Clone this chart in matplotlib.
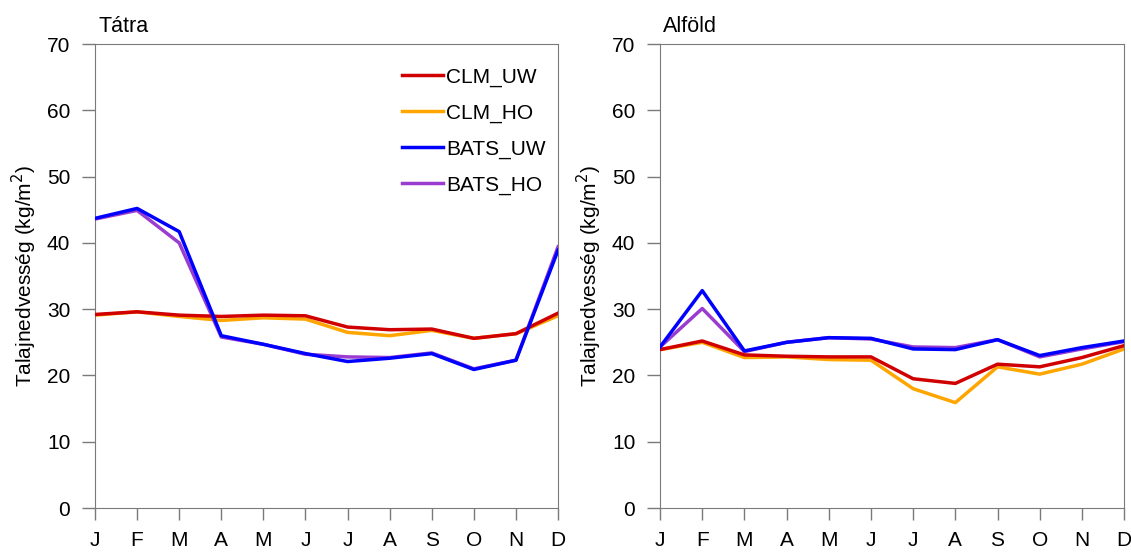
import matplotlib
matplotlib.use('Agg')
from matplotlib import pyplot as plt

plt.rcParams['font.family'] = ['Liberation Sans', 'DejaVu Sans']

MONTHS = ['J', 'F', 'M', 'A', 'M', 'J', 'J', 'A', 'S', 'O', 'N', 'D']

# Tátra
tatra_clm_uw = [29.2, 29.6, 29.1, 28.9, 29.1, 29.0, 27.3, 26.9, 27.0, 25.6, 26.3, 29.4]
tatra_clm_ho = [29.1, 29.6, 28.9, 28.3, 28.7, 28.5, 26.5, 26.0, 26.8, 25.6, 26.3, 29.0]
tatra_bats_uw = [43.7, 45.2, 41.7, 26.0, 24.7, 23.3, 22.1, 22.6, 23.3, 20.9, 22.3, 38.9]
tatra_bats_ho = [43.6, 44.9, 40.0, 25.8, 24.7, 23.2, 22.8, 22.7, 23.4, 21.0, 22.3, 39.4]

# Alföld
alfold_clm_uw = [23.9, 25.2, 23.1, 22.9, 22.8, 22.8, 19.5, 18.8, 21.7, 21.3, 22.7, 24.5]
alfold_clm_ho = [23.9, 25.0, 22.7, 22.8, 22.4, 22.3, 18.0, 15.9, 21.3, 20.2, 21.7, 24.0]
alfold_bats_uw = [24.3, 32.8, 23.7, 25.0, 25.7, 25.6, 24.0, 23.9, 25.4, 23.0, 24.2, 25.2]
alfold_bats_ho = [24.3, 30.1, 23.6, 25.0, 25.7, 25.5, 24.3, 24.2, 25.4, 22.8, 24.0, 25.1]

COLORS = {'CLM_UW': '#d00000', 'CLM_HO': '#ffa500', 'BATS_UW': '#0000ff', 'BATS_HO': '#9a3cd0'}
GRAY = '#7a7a7a'


def draw_panel(ax, title, series, legend=False):
  x = range(len(MONTHS))
  handles = {}
  for name, zo in [('CLM_HO', 2), ('BATS_HO', 3), ('CLM_UW', 4), ('BATS_UW', 5)]:
    h, = ax.plot(x, series[name], color=COLORS[name], lw=2.5, zorder=zo, label=name)
    handles[name] = h
  ax.set_xlim(0, 11)
  ax.set_ylim(0, 70)
  ax.set_xticks(list(x))
  ax.set_xticklabels(MONTHS)
  ax.set_yticks(range(0, 71, 10))
  for s in ax.spines.values():
    s.set_color(GRAY)
  ax.tick_params(axis='y', direction='out', length=9.3, width=1, color=GRAY, labelsize=15, pad=8.5)
  ax.tick_params(axis='x', direction='out', length=8.6, width=1, color=GRAY, labelsize=15, pad=8)
  ax.set_ylabel('Talajnedvesség (kg/m$^2$)', fontsize=15, labelpad=5.5)
  ax.text(0.0065, 1.0265, title, transform=ax.transAxes, fontsize=15.5, ha='left', va='baseline')
  if legend:
    order = ['CLM_UW', 'CLM_HO', 'BATS_UW', 'BATS_HO']
    ax.legend([handles[n] for n in order], order, loc='upper left', bbox_to_anchor=(0.644, 0.967),
              frameon=False, fontsize=15, handlelength=2.0, handletextpad=0.15, labelspacing=0.8,
              borderaxespad=0)


fig = plt.figure(figsize=(11.31, 5.54), dpi=100)
ax1 = fig.add_axes([0.084, 0.083, 0.4094, 0.8375])
ax2 = fig.add_axes([0.5836, 0.083, 0.4103, 0.8375])

draw_panel(ax1, 'Tátra', {'CLM_UW': tatra_clm_uw, 'CLM_HO': tatra_clm_ho,
                          'BATS_UW': tatra_bats_uw, 'BATS_HO': tatra_bats_ho}, legend=True)
draw_panel(ax2, 'Alföld', {'CLM_UW': alfold_clm_uw, 'CLM_HO': alfold_clm_ho,
                           'BATS_UW': alfold_bats_uw, 'BATS_HO': alfold_bats_ho})

fig.savefig('out.png', dpi=100)
